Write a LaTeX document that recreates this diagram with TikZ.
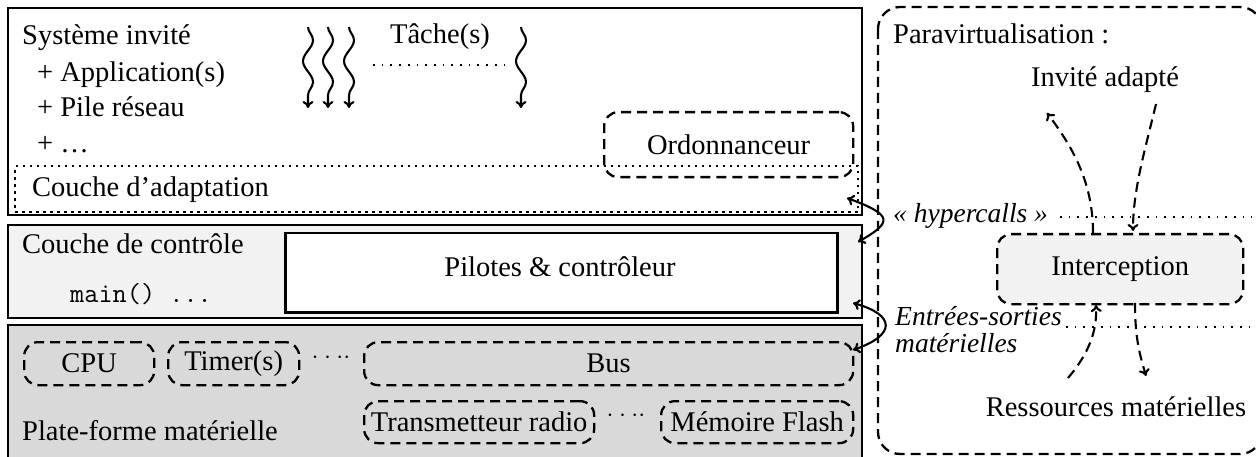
\documentclass[tikz,border=0pt]{standalone}
\usepackage{fontspec}
\setmainfont{Liberation Serif}
\usetikzlibrary{arrows.meta,decorations.pathmorphing,calc}
\definecolor{ctrlgray}{HTML}{F2F2F2}
\definecolor{hwgray}{HTML}{D9D9D9}
\tikzset{
  layer/.style={draw=black, line width=2.5pt, rectangle},
  dashbox/.style={draw=black, line width=2.3pt, dash pattern=on 10pt off 6pt, rounded corners=14pt},
  dotbox/.style={draw=black, line width=2.3pt, dash pattern=on 2.4pt off 4.6pt},
  dotline/.style={line width=1.7pt, dash pattern=on 1.7pt off 7pt},
  txt/.style={font=\fontsize{28.5}{30}\selectfont, inner sep=0pt},
  itxt/.style={font=\fontsize{27.5}{23}\selectfont\itshape, inner sep=0pt},
  wave/.style={line width=2.1pt, decorate, decoration={snake, amplitude=5pt, segment length=42pt, post length=7pt}, -{To[length=7pt,width=11pt]}},
  solidarr/.style={line width=2.1pt, {To[length=7pt,width=11pt]}-{To[length=7pt,width=11pt]}},
  dasharr/.style={line width=2.1pt, dash pattern=on 10pt off 6pt, -{To[length=7pt,width=11pt]}},
}
\begin{document}
\begin{tikzpicture}[x=1pt,y=-1pt]
\useasboundingbox (0,0) rectangle (1256,457);
\clip (0,0) rectangle (1256,457);
% layers
\draw[layer, fill=white] (8,8) rectangle (862,215);
\draw[layer, fill=ctrlgray] (8,225) rectangle (862,318);
\draw[layer, fill=hwgray] (8,325) rectangle (862,480);
% guest layer content
\node[txt, anchor=base west] (sys) at (22,45) {Système invité};
\node[txt, anchor=base west] (app) at (37,82) {+ Application(s)};
\node[txt, anchor=base west] (pile) at (37,117) {+ Pile réseau};
\node[txt, anchor=base west] (etc) at (37,153) {+ \ldots};
\node[dotbox, minimum width=843pt, minimum height=46pt, anchor=north west] (adapt) at (14,165) {};
\node[txt, anchor=base west] (adapttxt) at (32,197) {Couche d'adaptation};
\node[dashbox, minimum width=249pt, minimum height=65pt, anchor=north west, txt] (ord) at (603,111) {Ordonnanceur};
\node[txt] (tache) at (440,37) {Tâche(s)};
\draw[dotline] (373,65) -- (507,65);
\foreach \x/\n in {308/a,328/b,349/c,521/d}{
  \coordinate (w\n1) at (\x,27);
  \coordinate (w\n2) at (\x,108);
  \draw[wave] (w\n1) -- (w\n2);
}
% control layer
\node[txt, anchor=base west] (ctrl) at (22,254) {Couche de contrôle};
\node[anchor=base west, inner sep=0pt, font=\fontsize{27.5}{30}\selectfont\ttfamily] (main) at (70,302) {main() ...};
\node[layer, fill=white, minimum width=552pt, minimum height=79pt, anchor=north west] (pil) at (284,232) {};
\node[txt] (piltxt) at (560,267) {Pilotes \& contrôleur};
% hardware layer
\node[dashbox, txt, minimum width=130pt, minimum height=43pt, anchor=north west] (cpu) at (23,341) {CPU};
\node[dashbox, txt, minimum width=131pt, minimum height=43pt, anchor=north west] (timer) at (167,341) {Timer(s)};
\node[txt] (dots1) at (331,358) {$\cdot\cdot\cdot\cdot$};
\node[dashbox, txt, minimum width=489pt, minimum height=43pt, anchor=north west] (bus) at (363,341) {Bus};
\node[dashbox, txt, minimum width=230pt, minimum height=42pt, anchor=north west] (radio) at (363,400) {Transmetteur radio};
\node[txt] (dots2) at (626,416) {$\cdot\cdot\cdot\cdot$};
\node[dashbox, txt, minimum width=192pt, minimum height=42pt, anchor=north west] (flash) at (660,400) {Mémoire Flash};
\node[txt, anchor=base west] (plat) at (22,440) {Plate-forme matérielle};
% right panel
\draw[dashbox, rounded corners=22pt] (878,7) rectangle (1262,454);
\node[txt, anchor=base west] (para) at (893,44) {Paravirtualisation :};
\node[txt] (inv) at (1105,80) {Invité adapté};
\node[itxt, anchor=west] (hyp) at (893,216) {« hypercalls »};
\draw[dotline] (1060,217) -- (1252,217);
\node[dashbox, txt, fill=ctrlgray, minimum width=246pt, minimum height=70pt, anchor=north west] (inter) at (996,233) {Interception};
\node[itxt, anchor=base west] (es1) at (895,325) {Entrées-sorties};
\node[itxt, anchor=base west] (es2) at (895,352) {matérielles};
\draw[dotline] (1066,327) -- (1252,327);
\node[txt] (res) at (1116,407) {Ressources matérielles};
% solid double arrows
\coordinate (a1) at (847,198);
\coordinate (a2) at (858,242);
\coordinate (b1) at (853,303);
\coordinate (b2) at (853,350);
\draw[solidarr] (a1) .. controls (893,215) and (893,222) .. (a2);
\draw[solidarr] (b1) .. controls (896,315) and (896,335) .. (b2);
% dashed arrows
\coordinate (u1) at (1093,233);
\coordinate (u2) at (1047,113);
\coordinate (d1) at (1156,104);
\coordinate (d2) at (1133,231);
\coordinate (r1) at (1068,378);
\coordinate (r2) at (1096,305);
\coordinate (s1) at (1135,303);
\coordinate (s2) at (1146,376);
\draw[dasharr] (u1) .. controls (1093,185) and (1075,150) .. (u2);
\draw[dasharr] (d1) .. controls (1145,150) and (1133,190) .. (d2);
\draw[dasharr] (r1) .. controls (1090,352) and (1097,330) .. (r2);
\draw[dasharr] (s1) .. controls (1135,340) and (1140,355) .. (s2);
\end{tikzpicture}
\end{document}
